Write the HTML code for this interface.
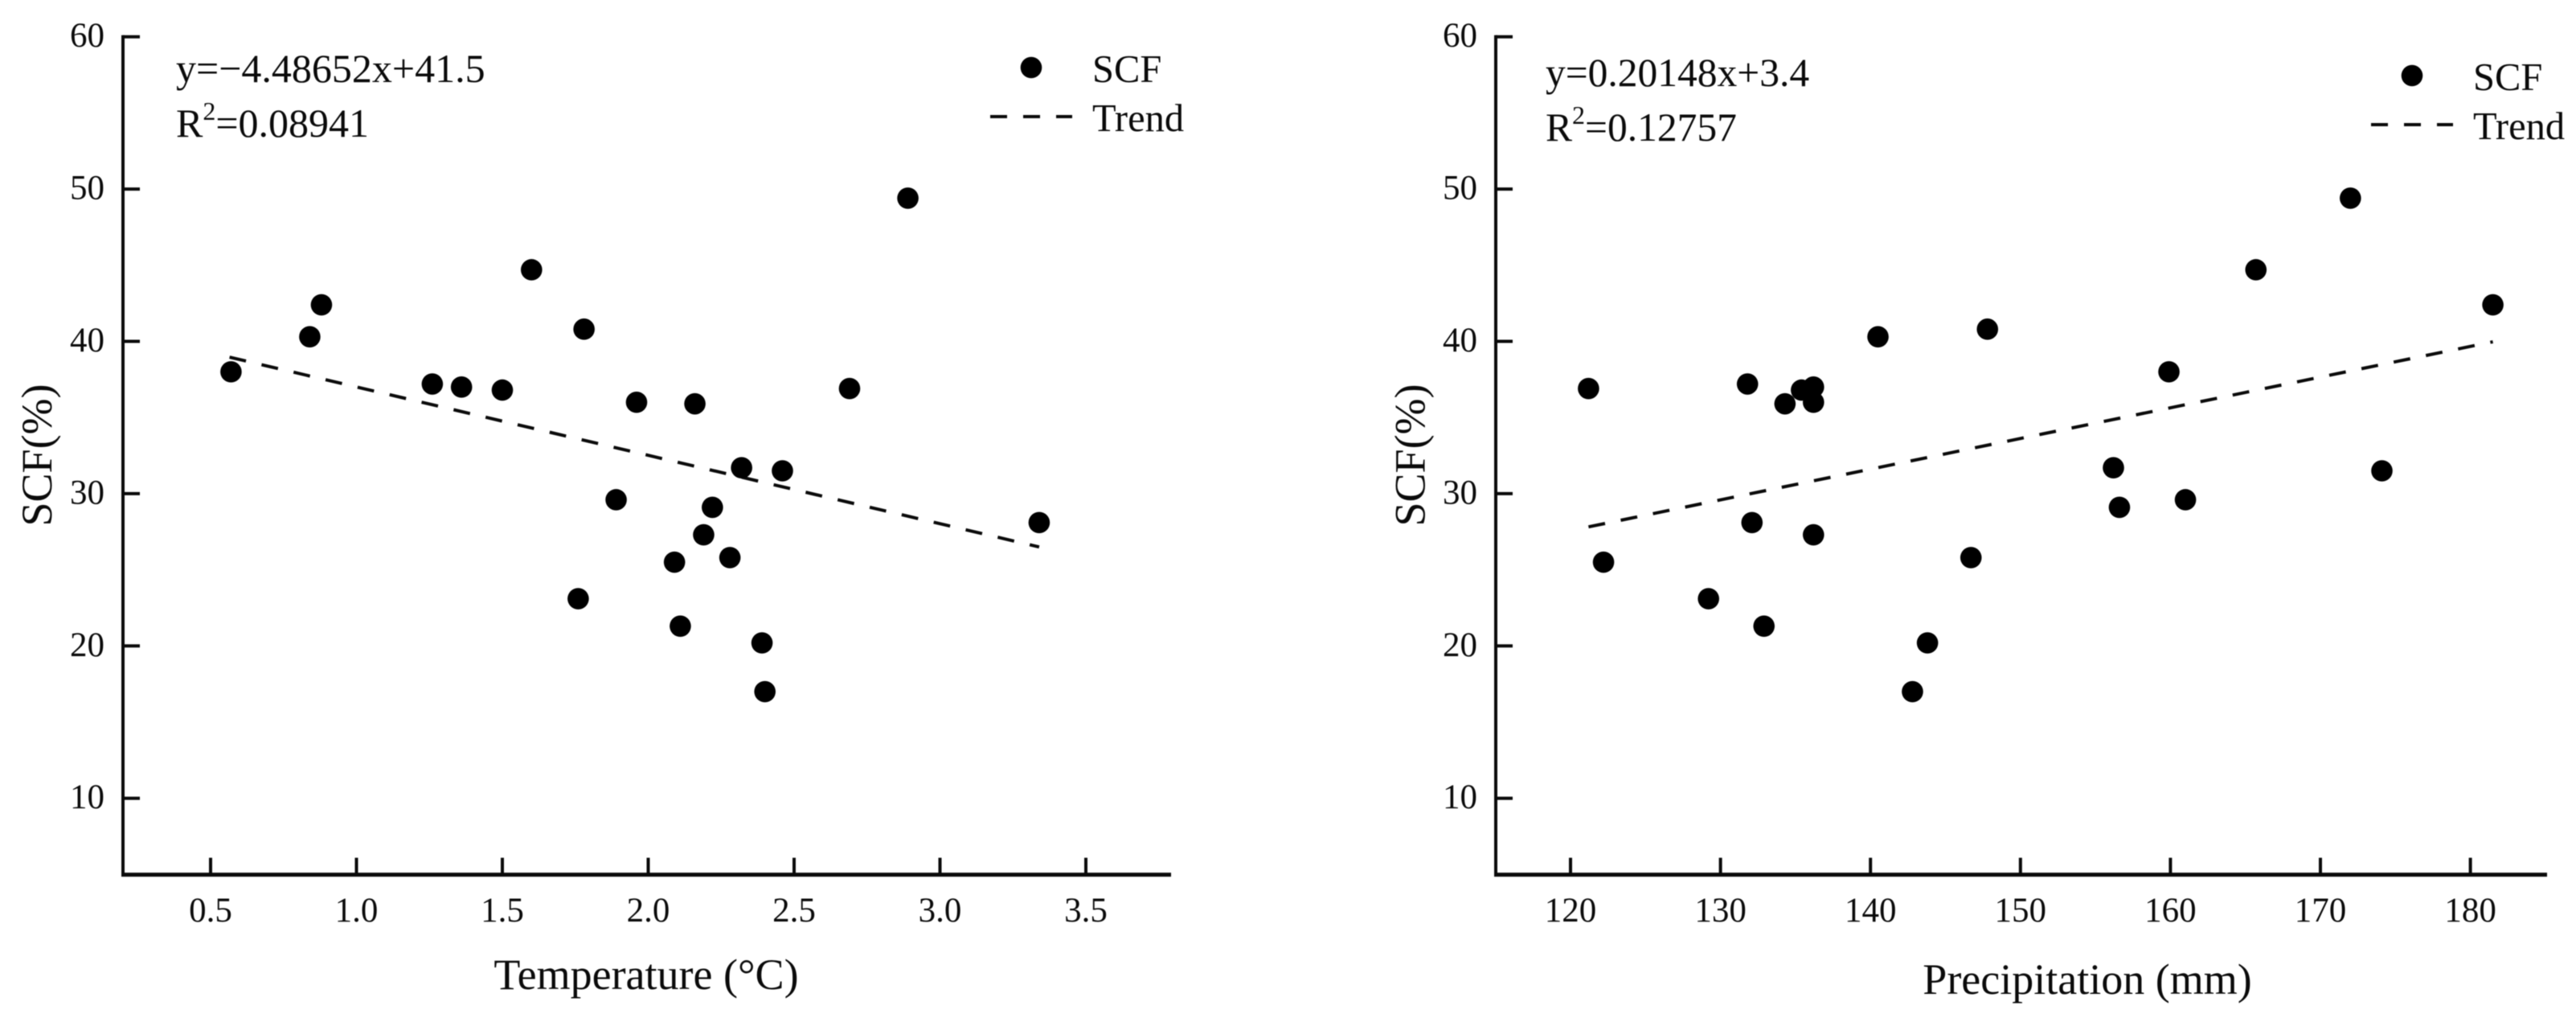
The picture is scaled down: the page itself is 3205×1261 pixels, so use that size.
<!DOCTYPE html>
<html lang="en">
<head>
<meta charset="utf-8">
<title>SCF vs Temperature and Precipitation</title>
<style>
html,body{margin:0;padding:0;background:#fff;width:3205px;height:1261px;overflow:hidden}
svg{display:block;filter:blur(0.6px)}
text{font-family:"Liberation Serif","Times New Roman",serif;fill:#0a0a0a}
</style>
</head>
<body>
<svg id="figure" xmlns="http://www.w3.org/2000/svg" width="3205" height="1261" viewBox="0 0 3205 1261">
<rect width="3205" height="1261" fill="#fff"/>
<g id="temp-panel"></g>
<g id="precip-panel"></g>
<text x="219" y="102" font-size="50">y=−4.48652x+41.5</text>
<text x="219" y="170" font-size="50">R<tspan font-size="32" dy="-21">2</tspan><tspan dy="21">=0.08941</tspan></text>
<text x="1923" y="107" font-size="49.5">y=0.20148x+3.4</text>
<text x="1923" y="175" font-size="49.5">R<tspan font-size="32" dy="-21">2</tspan><tspan dy="21">=0.12757</tspan></text>
</svg>
<script>
var scfValues = [38, 40.3, 42.4, 37.2, 37, 36.8, 44.7, 23.1, 40.8, 29.6, 36, 25.5, 21.3, 35.9, 27.3, 29.1, 25.8, 31.7, 20.2, 17, 31.5, 36.9, 49.4, 28.1];
var temperatureValues = [0.57, 0.84, 0.88, 1.26, 1.36, 1.5, 1.6, 1.76, 1.78, 1.89, 1.96, 2.09, 2.11, 2.16, 2.19, 2.22, 2.28, 2.32, 2.39, 2.4, 2.46, 2.69, 2.89, 3.34];
var precipScfValues = [36.9, 25.5, 23.1, 37.2, 28.1, 21.3, 35.9, 36.8, 37, 36, 27.3, 40.3, 17, 20.2, 25.8, 40.8, 31.7, 29.1, 38, 29.6, 44.7, 49.4, 31.5, 42.4];
var precipitationValues = [121.2, 122.2, 129.2, 131.8, 132.1, 132.9, 134.3, 135.4, 136.2, 136.2, 136.2, 140.5, 142.8, 143.8, 146.7, 147.8, 156.2, 156.6, 159.9, 161, 165.7, 172, 174.1, 181.5];
var temperatureTrendX = [0.565, 3.34];
var temperatureTrendY = [38.96, 26.5];
var precipitationTrendX = [121.2, 181.5];
var precipitationTrendY = [27.82, 39.97];
var yTickLabels = ["10", "20", "30", "40", "50", "60"];
var temperatureTickLabels = ["0.5", "1.0", "1.5", "2.0", "2.5", "3.0", "3.5"];
var precipitationTickLabels = ["120", "130", "140", "150", "160", "170", "180"];

var NS = 'http://www.w3.org/2000/svg';
function make(parent, tag, attrs, text) {
  var el = document.createElementNS(NS, tag);
  for (var k in attrs) { el.setAttribute(k, attrs[k]); }
  if (text !== undefined) { el.textContent = text; }
  parent.appendChild(el);
  return el;
}
function yScale(v) { return 992.7 - (v - 10) * 18.94; }

function drawPanel(parent, cfg) {
  function xScale(v) { return cfg.x0 + (v - cfg.xMin) * cfg.xPerUnit; }
  var axisColor = '#0a0a0a';
  var el;

  el = make(parent, 'line', {x1: cfg.axisLeft, x2: cfg.axisLeft, y1: yScale(60) - 2, y2: 1090, stroke: axisColor, 'stroke-width': 4});
  
  
  el = make(parent, 'line', {x1: cfg.axisLeft - 2, x2: cfg.axisRight, y1: 1087.7, y2: 1087.7, stroke: axisColor, 'stroke-width': 5});
  
  

  yTickLabels.forEach(function (lab) {
    var v = parseFloat(lab), y = yScale(v);
    var t = make(parent, 'line', {x1: cfg.axisLeft, x2: cfg.axisLeft + 21, y1: y, y2: y, stroke: axisColor, 'stroke-width': 4});
    
    
    var l = make(parent, 'text', {x: cfg.axisLeft - 23, y: y + 12.5, 'font-size': 43, 'text-anchor': 'end'}, lab);
    
    
  });

  cfg.xTicks.forEach(function (lab) {
    var x = xScale(parseFloat(lab));
    var t = make(parent, 'line', {x1: x, x2: x, y1: 1066.7, y2: 1087, stroke: axisColor, 'stroke-width': 4});
    
    
    var l = make(parent, 'text', {x: x, y: 1146, 'font-size': 43, 'text-anchor': 'middle'}, lab);
    
    
  });

  el = make(parent, 'text', {x: cfg.xTitleX, y: cfg.xTitleY, 'font-size': 54, 'text-anchor': 'middle'}, cfg.xTitle);
  
  
  el = make(parent, 'text', {x: 0, y: 0, 'font-size': 54, 'text-anchor': 'middle', transform: 'translate(' + cfg.yTitleX + ',566) rotate(-90)'}, 'SCF(%)');
  
  

  el = make(parent, 'line', {x1: xScale(cfg.trendX[0]), y1: yScale(cfg.trendY[0]), x2: xScale(cfg.trendX[1]), y2: yScale(cfg.trendY[1]), stroke: '#0a0a0a', 'stroke-width': 4, 'stroke-dasharray': '21 19.9'});
  
  

  cfg.xs.forEach(function (xv, i) {
    var c = make(parent, 'circle', {cx: xScale(xv), cy: yScale(cfg.ys[i]), r: 13.3, fill: '#000'});
    
    
  });

  el = make(parent, 'circle', {cx: cfg.legendDotX, cy: cfg.legendY, r: 13.3, fill: '#000'});
  
  
  el = make(parent, 'text', {x: cfg.legendTextX, y: cfg.legendY + 18, 'font-size': 48.5}, 'SCF');
  
  
  el = make(parent, 'line', {x1: cfg.legendDotX - 51, x2: cfg.legendDotX + 51, y1: cfg.legendY + 61, y2: cfg.legendY + 61, stroke: '#0a0a0a', 'stroke-width': 4, 'stroke-dasharray': '21 20'});
  
  
  el = make(parent, 'text', {x: cfg.legendTextX, y: cfg.legendY + 79, 'font-size': 48.5}, 'Trend');
  
  
}

drawPanel(document.getElementById('temp-panel'), {
  x0: 262, xMin: 0.5, xPerUnit: 363,
  axisLeft: 153, axisRight: 1457,
  xTicks: temperatureTickLabels, xs: temperatureValues, ys: scfValues,
  trendX: temperatureTrendX, trendY: temperatureTrendY,
  xTitle: 'Temperature (°C)', xTitleX: 804, xTitleY: 1230, yTitleX: 64,
  legendDotX: 1283, legendY: 84, legendTextX: 1359
});
drawPanel(document.getElementById('precip-panel'), {
  x0: 1954, xMin: 120, xPerUnit: 18.66,
  axisLeft: 1861, axisRight: 3169,
  xTicks: precipitationTickLabels, xs: precipitationValues, ys: precipScfValues,
  trendX: precipitationTrendX, trendY: precipitationTrendY,
  xTitle: 'Precipitation (mm)', xTitleX: 2597, xTitleY: 1236, yTitleX: 1772.6,
  legendDotX: 3001, legendY: 94, legendTextX: 3077
});
</script>
</body>
</html>
